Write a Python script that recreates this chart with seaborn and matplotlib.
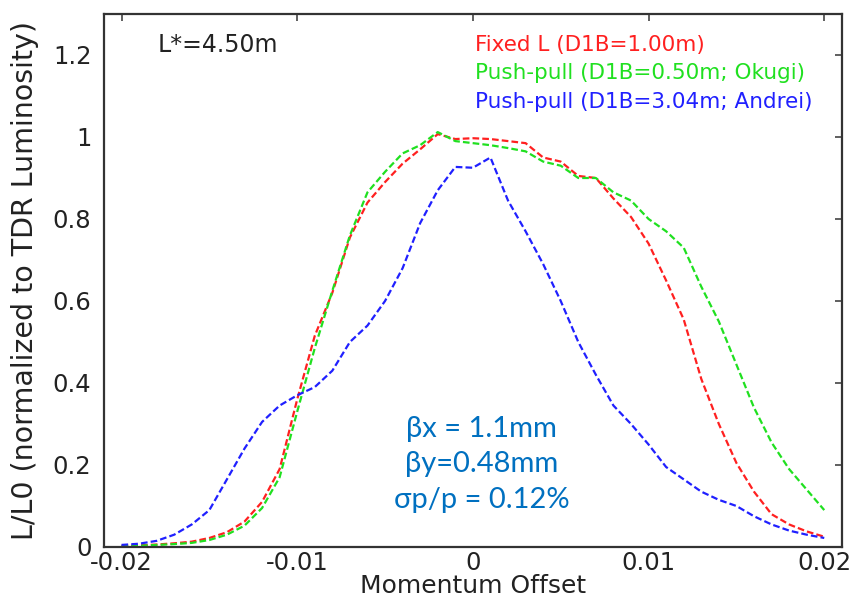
import matplotlib
matplotlib.use("Agg")
import matplotlib.pyplot as plt
import seaborn as sns
import numpy as np
import pandas as pd

# ---- data ----
momentum = [k / 1000 for k in range(-20, 21)]
fixed_l = [0.003, 0.004, 0.006, 0.009, 0.013, 0.022, 0.036, 0.062, 0.11, 0.19,
           0.36, 0.515, 0.62, 0.755, 0.84, 0.89, 0.935, 0.97, 1.007, 0.995,
           0.997, 0.995, 0.99, 0.985, 0.95, 0.94, 0.905, 0.90, 0.85, 0.805,
           0.74, 0.65, 0.555, 0.41, 0.30, 0.205, 0.135, 0.08, 0.055, 0.038, 0.025]
okugi = [0.002, 0.003, 0.005, 0.007, 0.010, 0.017, 0.030, 0.052, 0.095, 0.17,
         0.33, 0.485, 0.625, 0.76, 0.865, 0.915, 0.96, 0.98, 1.012, 0.99,
         0.985, 0.98, 0.973, 0.965, 0.94, 0.93, 0.90, 0.90, 0.865, 0.845,
         0.80, 0.77, 0.73, 0.635, 0.55, 0.445, 0.34, 0.255, 0.19, 0.14, 0.09]
andrei = [0.005, 0.008, 0.015, 0.03, 0.055, 0.09, 0.165, 0.24, 0.305, 0.345,
          0.37, 0.39, 0.43, 0.50, 0.54, 0.60, 0.68, 0.79, 0.87, 0.927,
          0.925, 0.95, 0.845, 0.77, 0.69, 0.60, 0.50, 0.42, 0.345, 0.30,
          0.25, 0.195, 0.165, 0.135, 0.115, 0.10, 0.075, 0.055, 0.04, 0.03, 0.022]
series_names = ["Fixed L (D1B=1.00m)",
                "Push-pull (D1B=0.50m; Okugi)",
                "Push-pull (D1B=3.04m; Andrei)"]
series_colors = ["#ff2020", "#20e020", "#2020ff"]
x_ticks = [-0.02, -0.01, 0, 0.01, 0.02]
x_tick_labels = ["-0.02", "-0.01", "0", "0.01", "0.02"]
y_ticks = [0, 0.2, 0.4, 0.6, 0.8, 1.0, 1.2]
y_tick_labels = ["0", "0.2", "0.4", "0.6", "0.8", "1", "1.2"]

df = pd.concat([
    pd.DataFrame({"x": momentum, "y": vals, "series": name})
    for name, vals in zip(series_names, [fixed_l, okugi, andrei])
], ignore_index=True)

sns.set_style("white")
plt.rcParams['font.family'] = ['DejaVu Sans']
plt.rcParams['axes.unicode_minus'] = False

fig = plt.figure(figsize=(8.59, 5.98), dpi=100)
ax = fig.add_axes([0.121, 0.0853, 0.859, 0.8913])

sns.lineplot(data=df, x="x", y="y", hue="series", hue_order=series_names,
             palette=dict(zip(series_names, series_colors)), legend=False,
             ax=ax, linewidth=1.6)
for ln in ax.lines:
    ln.set_dashes((3, 1.4))

ax.set_xlim(-0.021, 0.021)
ax.set_ylim(0, 1.3)
ax.set_xticks(x_ticks)
ax.set_xticklabels(x_tick_labels)
ax.set_yticks(y_ticks)
ax.set_yticklabels(y_tick_labels)
ax.tick_params(axis='both', direction='in', length=5, width=1.2, color='#444444',
               top=True, right=True, labelsize=17.5, labelcolor='#222222')
ax.tick_params(axis='x', pad=3)
ax.tick_params(axis='y', pad=9)
for sp in ax.spines.values():
    sp.set_visible(True)
    sp.set_color('#333333')
    sp.set_linewidth(1.6)

ax.set_xlabel("Momentum Offset", fontsize=18, color='#222222', labelpad=-1)
ax.set_ylabel("L/L0 (normalized to TDR Luminosity)", fontsize=20.5, color='#222222',
              labelpad=10)

ax.text(0.073, 0.942, "L*=4.50m", transform=ax.transAxes, fontsize=17,
        va='center', ha='left', color='#222222')
for i, (name, col) in enumerate(zip(series_names, series_colors)):
    ax.text(0.503, 0.942 - 0.0535 * i, name, transform=ax.transAxes,
            fontsize=15.5, color=col, va='center', ha='left')

ax.text(0.512, 0.155, "βx = 1.1mm\nβy=0.48mm\nσp/p = 0.12%", transform=ax.transAxes,
        fontsize=21, color='#0070C0', ha='center', va='center',
        multialignment='center', linespacing=1.45, family=['Lato', 'DejaVu Sans'])

fig.savefig("out.png", dpi=100)
